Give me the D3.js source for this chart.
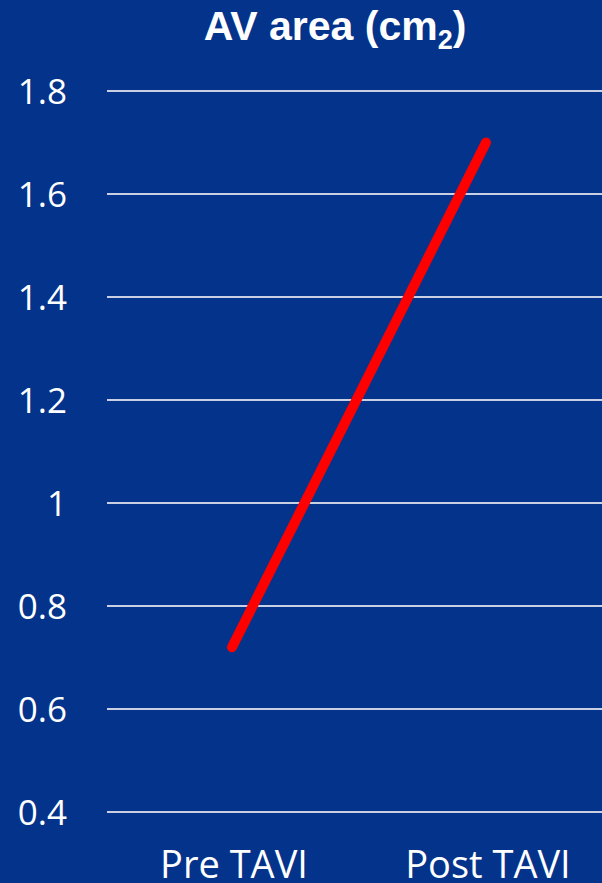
<!DOCTYPE html>
<html>
<head>
<meta charset="utf-8">
<script src="https://cdn.jsdelivr.net/npm/d3@7"></script>
<style>
  html, body { margin: 0; padding: 0; background: #04338b; }
  svg { display: block; }
</style>
</head>
<body>
<svg id="chart" width="602" height="883"></svg>
<script>
// data
var categories = ["Pre TAVI", "Post TAVI"];
var avArea = [0.72, 1.70];
var yTicks = [0.4, 0.6, 0.8, 1.0, 1.2, 1.4, 1.6, 1.8];
var yTickLabels = ["0.4", "0.6", "0.8", "1", "1.2", "1.4", "1.6", "1.8"];

var svg = d3.select("#chart");
var W = 602, H = 883;

svg.append("rect").attr("width", W).attr("height", H).attr("fill", "#04338b");

// scales
var x = d3.scaleBand().domain(categories).range([105, 613]).padding(0);
var y = d3.scaleLinear().domain([0.4, 1.8]).range([812, 91]);

// gridlines
svg.append("g").selectAll("line").data(yTicks).enter().append("line")
    .attr("x1", 107).attr("x2", W)
    .attr("y1", function(d) { return y(d); })
    .attr("y2", function(d) { return y(d); })
    .attr("stroke", "#c9d0e4").attr("stroke-width", 2);

// y labels
svg.append("g").selectAll("text").data(yTicks).enter().append("text")
    .attr("x", 67)
    .attr("y", function(d) { return y(d); })
    .attr("dy", "0.36em")
    .attr("text-anchor", "end")
    .attr("font-family", "'Open Sans', 'Noto Sans', sans-serif")
    .attr("font-size", 35)
    .attr("fill", "#ffffff")
    .text(function(d, i) { return yTickLabels[i]; });

// x labels
svg.append("g").selectAll("text").data(categories).enter().append("text")
    .attr("x", function(d) { return x(d) + x.bandwidth() / 2 + 2; })
    .attr("y", 878)
    .attr("text-anchor", "middle")
    .attr("font-family", "'Open Sans', 'Noto Sans', sans-serif")
    .attr("font-size", 38)
    .attr("fill", "#ffffff")
    .text(function(d) { return d; });

// line
var line = d3.line()
    .x(function(d, i) { return x(categories[i]) + x.bandwidth() / 2; })
    .y(function(d) { return y(d); });

svg.append("path")
    .datum(avArea)
    .attr("d", line)
    .attr("fill", "none")
    .attr("stroke", "#ff0000")
    .attr("stroke-width", 10)
    .attr("stroke-linecap", "round");

// title
var title = svg.append("text")
    .attr("x", 335).attr("y", 40)
    .attr("text-anchor", "middle")
    .attr("font-family", "'Liberation Sans', Arial, sans-serif")
    .attr("font-weight", "bold")
    .attr("font-size", 41)
    .attr("fill", "#ffffff");
title.append("tspan").text("AV area (cm");
title.append("tspan").attr("font-size", 27).attr("dy", 9).text("2");
title.append("tspan").attr("dy", -9).text(")");
</script>
</body>
</html>
